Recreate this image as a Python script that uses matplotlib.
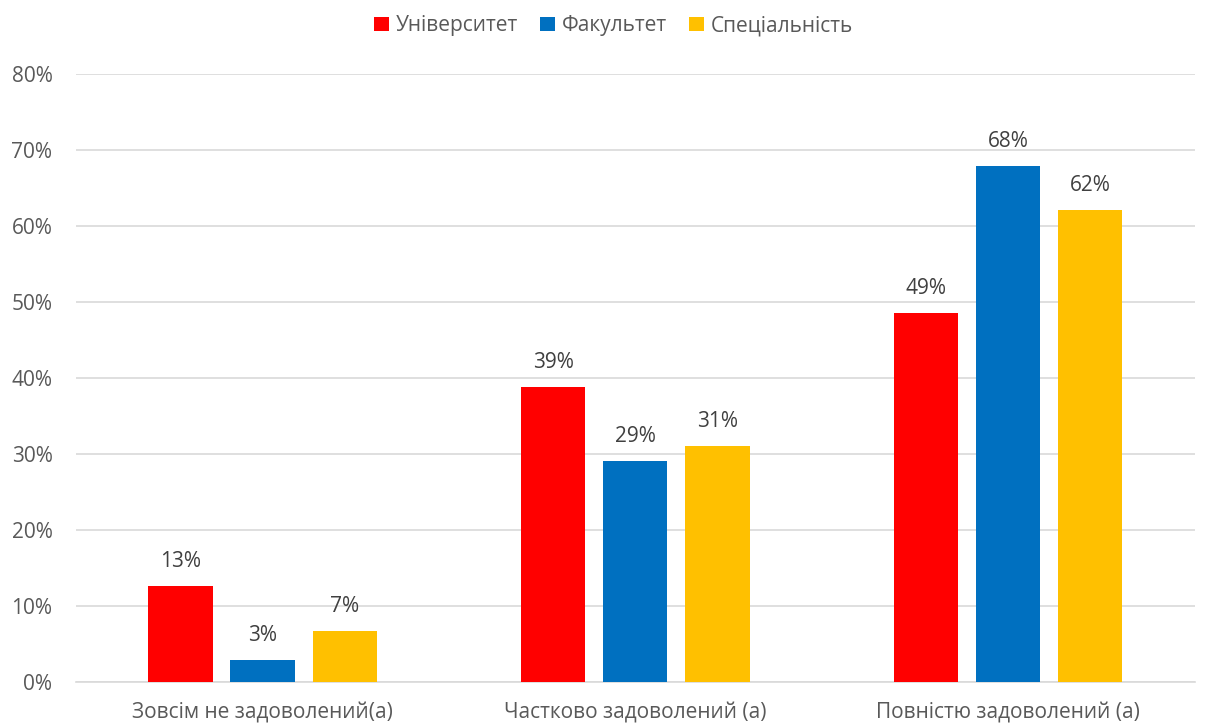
import numpy as np
import matplotlib
matplotlib.use("Agg")
import matplotlib.pyplot as plt
from matplotlib.ticker import PercentFormatter

plt.rcParams['font.family'] = ['Open Sans', 'DejaVu Sans']

categories = ["Зовсім не задоволений(а)", "Частково задоволений (а)", "Повністю задоволений (а)"]
series_names = ["Університет", "Факультет", "Спеціальність"]
university = [12.6, 38.8, 48.6]
faculty = [2.9, 29.1, 67.9]
specialty = [6.7, 31.1, 62.1]
labels_univ = ["13%", "39%", "49%"]
labels_fac = ["3%", "29%", "68%"]
labels_spec = ["7%", "31%", "62%"]

colors = ["#FF0000", "#0070C0", "#FFC000"]
axis_text = "#595959"
value_text = "#404040"

fig = plt.figure(figsize=(12.08, 7.26), dpi=100)
ax = fig.add_axes([0.0630, 0.0606, 0.9260, 0.8374])

x = np.arange(len(categories))
width = 0.172
step = 0.22

all_series = [university, faculty, specialty]
all_labels = [labels_univ, labels_fac, labels_spec]
for i, (vals, labs, c, name) in enumerate(zip(all_series, all_labels, colors, series_names)):
    bars = ax.bar(x + (i - 1) * step, vals, width, color=c, label=name, zorder=3)
    ax.bar_label(bars, labels=labs, padding=10, fontsize=15, color=value_text)

ax.set_xlim(-0.5, 2.5)
ax.set_ylim(0, 80)
ax.set_yticks(np.arange(0, 81, 10))
ax.yaxis.set_major_formatter(PercentFormatter(decimals=0))
ax.set_xticks(x)
ax.set_xticklabels(categories)
ax.grid(axis='y', color="#D9D9D9", linewidth=1.2, zorder=0)
for s in ["top", "right", "left"]:
    ax.spines[s].set_visible(False)
ax.spines["bottom"].set_color("#D9D9D9")
ax.spines["bottom"].set_linewidth(1.2)
ax.tick_params(axis='both', length=0, labelsize=15, colors=axis_text)
ax.tick_params(axis='y', pad=17)
ax.tick_params(axis='x', pad=15)

leg = fig.legend(loc="upper center", bbox_to_anchor=(0.508, 1.005), ncol=3, frameon=False,
                 fontsize=15, handlelength=0.7, handleheight=0.7, handletextpad=0.35,
                 columnspacing=1.05, labelcolor=axis_text)

fig.savefig("out.png", dpi=100)
